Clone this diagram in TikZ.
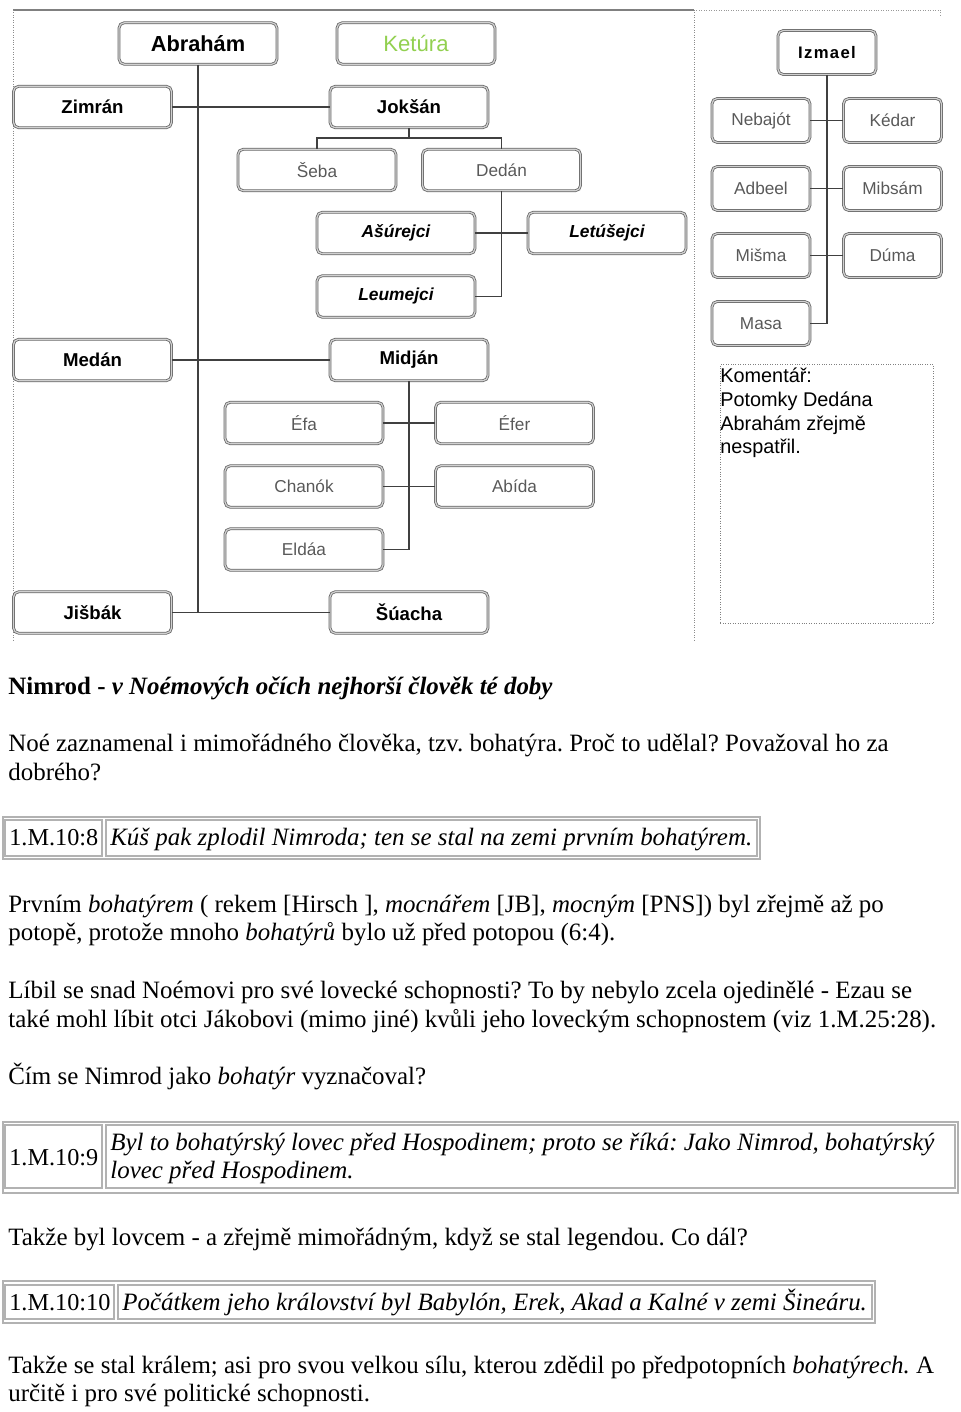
\documentclass[tikz,border=0pt]{standalone}
\usepackage{fontspec}
\setmainfont{Liberation Serif}
\newfontfamily\arial{Liberation Sans}

\definecolor{ketgreen}{RGB}{146,208,80}

\tikzset{
  rodbox/.style={draw=black!60, double=black!18, double distance=0.7pt,
    line width=0.45pt, rounded corners=3pt, inner sep=0pt,
    minimum width=3.16cm, minimum height=0.83cm},
  hlava/.style={rodbox, font=\arial\bfseries\fontsize{12.4}{14}\selectfont},
  syn/.style={rodbox, font=\arial\bfseries\fontsize{10.6}{12}\selectfont},
  vnuk/.style={rodbox, text=black!65, font=\arial\fontsize{9.8}{11}\selectfont},
  kmen/.style={rodbox, font=\arial\bfseries\itshape\fontsize{9.9}{11}\selectfont},
  izm/.style={minimum width=1.96cm, minimum height=0.88cm},
  vetev/.style={draw=black!75, line width=0.6pt},
  radek/.style={anchor=base west, inner sep=0pt, font=\fontsize{14.2}{16.5}\selectfont},
  odkaz/.style={radek, font=\fontsize{13.8}{16.5}\selectfont},
  tabulka/.style={draw=black!30, line width=1.1pt},
  bunka/.style={draw=black!30, line width=0.6pt}
}

\begin{document}
\frenchspacing
\begin{tikzpicture}[x=0.02cm, y=-0.02cm]

\useasboundingbox (0,0) rectangle (960,1412);

% Ramecek
\draw[black!50, line width=0.6pt] (13,10) -- (694,10);
\draw[black!40, densely dotted] (694,10) -- (940,10) -- (940,15);
\draw[black!45, densely dotted] (13,10) -- (13,642);
\draw[black!45, densely dotted] (694,10) -- (694,642);

% Abraham a Ketura
\node[hlava] (abraham) at (198,43.5) {Abrahám};
\node[hlava, font=\arial\fontsize{12.6}{14}\selectfont, text=ketgreen] (ketura) at (416,43.5) {Ketúra};

\node[syn] (zimran) at (92.5,107) {Zimrán};
\node[syn] (joksan) at (409,107) {Jokšán};
\node[vnuk] (seba) at (317,170) {Šeba};
\node[vnuk] (dedan) at (501.5,170) {Dedán};
\node[kmen] (asurejci) at (396,233) {Ašúrejci};
\node[kmen] (letusejci) at (607,233) {Letúšejci};
\node[kmen] (leumejci) at (396,296.5) {Leumejci};

\node[syn] (medan) at (92.5,360) {Medán};
\node[syn] (midjan) at (409,360) {Midján};
\node[vnuk] (efa) at (304,423) {Éfa};
\node[vnuk] (efer) at (514.5,423) {Éfer};
\node[vnuk] (chanok) at (304,486.5) {Chanók};
\node[vnuk] (abida) at (514.5,486.5) {Abída};
\node[vnuk] (eldaa) at (304,549.5) {Eldáa};

\node[syn] (jisbak) at (92.5,612.5) {Jišbák};
\node[syn] (suacha) at (409,612.5) {Šúacha};

\draw[vetev] (abraham.south) |- (jisbak.east);
\draw[vetev] (zimran.east) -- (joksan.west);
\draw[vetev] (medan.east) -- (midjan.west);
\draw[vetev] (jisbak.east) -- (suacha.west);

\coordinate (jfork) at (409,138);
\draw[vetev] (joksan.south) -- (jfork);
\draw[vetev] (seba.north) |- (jfork) -| (dedan.north);
\draw[vetev] (dedan.south) |- (leumejci.east);
\draw[vetev] (asurejci.east) -- (letusejci.west);

\draw[vetev] (midjan.south) |- (eldaa.east);
\draw[vetev] (efa.east) -- (efer.west);
\draw[vetev] (chanok.east) -- (abida.west);

% Izmael
\node[syn, izm, font=\arial\bfseries\addfontfeature{LetterSpace=8}\fontsize{9.5}{11}\selectfont] (izmael) at (827,52.5) {Izmael};
\node[vnuk, izm] (nebajot) at (761,120.5) {Nebajót};
\node[vnuk, izm] (kedar) at (892.5,120.5) {Kédar};
\node[vnuk, izm] (adbeel) at (761,188.5) {Adbeel};
\node[vnuk, izm] (mibsam) at (892.5,188.5) {Mibsám};
\node[vnuk, izm] (misma) at (761,255.5) {Mišma};
\node[vnuk, izm] (duma) at (892.5,255.5) {Dúma};
\node[vnuk, izm] (masa) at (761,323.5) {Masa};

\draw[vetev] (izmael.south) |- (masa.east);
\draw[vetev] (nebajot.east) -- (kedar.west);
\draw[vetev] (adbeel.east) -- (mibsam.west);
\draw[vetev] (misma.east) -- (duma.west);

% Komentar
\node[draw=black!50, densely dotted, anchor=north west, inner sep=0pt,
  minimum width=4.26cm, minimum height=5.18cm] (koment) at (720,364) {};
\node[anchor=north west, inner sep=0pt, align=left,
  font=\arial\fontsize{11.3}{13.4}\selectfont] (komtext) at (720,368)
  {Komentář:\\Potomky Dedána\\Abrahám zřejmě\\nespatřil.};

% Text
\node[radek] (nadpis) at (8,694) {\textbf{Nimrod - \textit{v Noémových očích nejhorší člověk té doby}}};
\node[radek] (odst1a) at (8,751) {Noé zaznamenal i mimořádného člověka, tzv. bohatýra. Proč to udělal? Považoval ho za};
\node[radek] (odst1b) at (8,780) {dobrého?};

\draw[tabulka] (3,817) rectangle (760,859);
\draw[bunka] (5,820) rectangle (102,856);
\draw[bunka] (106,820) rectangle (757,856);
\node[odkaz] (ref8) at (9,845) {1.M.10:8};
\node[radek] (cit8) at (110,845) {\textit{Kúš pak zplodil Nimroda; ten se stal na zemi prvním bohatýrem.}};

\node[radek] (odst2a) at (8,912) {Prvním \textit{bohatýrem} ( rekem [Hirsch ], \textit{mocnářem} [JB], \textit{mocným} [PNS]) byl zřejmě až po};
\node[radek] (odst2b) at (8,940) {potopě, protože mnoho \textit{bohatýrů} bylo už před potopou (6:4).};
\node[radek] (odst3a) at (8,998) {Líbil se snad Noémovi pro své lovecké schopnosti? To by nebylo zcela ojedinělé - Ezau se};
\node[radek] (odst3b) at (8,1027) {také mohl líbit otci Jákobovi (mimo jiné) kvůli jeho loveckým schopnostem (viz 1.M.25:28).};
\node[radek] (odst4) at (8,1084) {Čím se Nimrod jako \textit{bohatýr} vyznačoval?};

\draw[tabulka] (3,1122) rectangle (958,1193);
\draw[bunka] (5,1125) rectangle (102,1188);
\draw[bunka] (106,1125) rectangle (955,1188);
\node[odkaz] (ref9) at (9,1165) {1.M.10:9};
\node[radek] (cit9a) at (110,1150) {\textit{Byl to bohatýrský lovec před Hospodinem; proto se říká: Jako Nimrod, bohatýrský}};
\node[radek] (cit9b) at (110,1178) {\textit{lovec před Hospodinem.}};

\node[radek] (odst5) at (8,1245) {Takže byl lovcem - a zřejmě mimořádným, když se stal legendou. Co dál?};

\draw[tabulka] (3,1281) rectangle (875,1323);
\draw[bunka] (5,1285) rectangle (114,1319);
\draw[bunka] (118,1285) rectangle (872,1319);
\node[odkaz] (ref10) at (9,1310) {1.M.10:10};
\node[radek] (cit10) at (122,1310) {\textit{Počátkem jeho království byl Babylón, Erek, Akad a Kalné v zemi Šineáru.}};

\node[radek] (odst6a) at (8,1373) {Takže se stal králem; asi pro svou velkou sílu, kterou zdědil po předpotopních \textit{bohatýrech.} A};
\node[radek] (odst6b) at (8,1401) {určitě i pro své politické schopnosti.};

\end{tikzpicture}
\end{document}
